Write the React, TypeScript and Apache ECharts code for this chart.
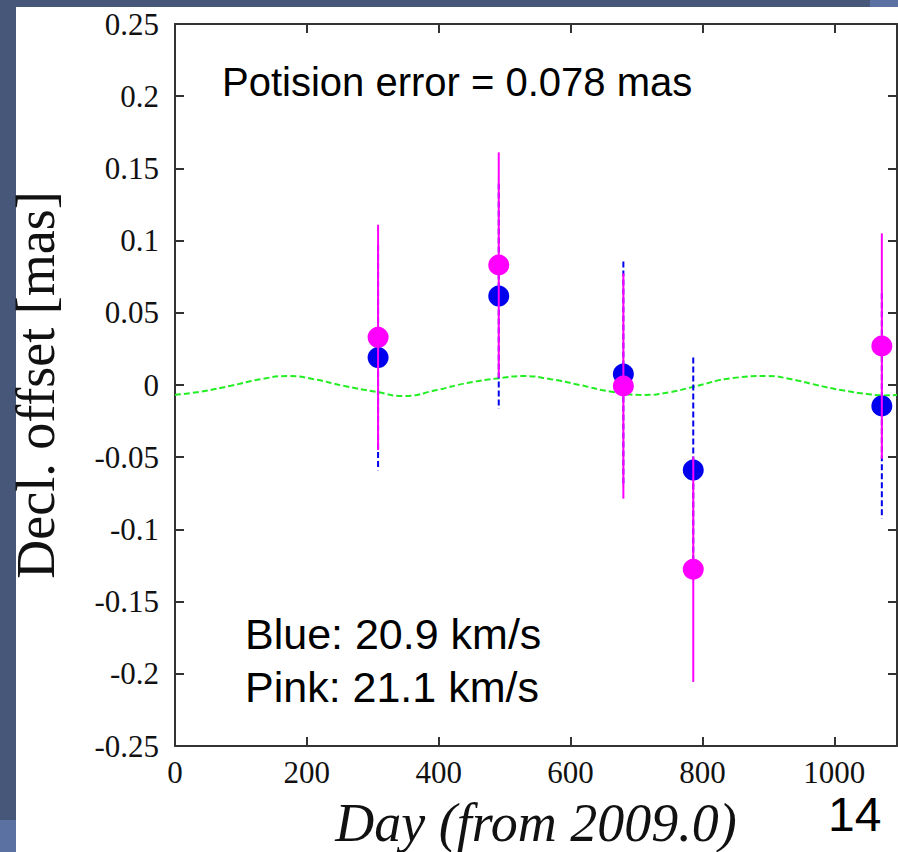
import React, { useEffect, useRef } from "react";
import * as echarts from "echarts";

// ---- data ----
const xTickLabels = ["0", "200", "400", "600", "800", "1000"];
const yTickLabels = ["-0.25", "-0.2", "-0.15", "-0.1", "-0.05", "0", "0.05", "0.1", "0.15", "0.2", "0.25"];

const obsDays = [308, 491, 680, 786, 1072];
const blueValues = [0.019, 0.0616, 0.0076, -0.0589, -0.0145];
const pinkValues = [0.033, 0.0831, -0.0007, -0.1276, 0.027];
const positionError = 0.078;

const curveDays = [0, 40, 85, 130, 171, 209, 255, 306, 346, 397, 443, 493, 528, 570, 614, 660, 710, 750, 785, 846, 898, 935, 973, 1010, 1049, 1075, 1095];
const curveValues = [-0.0069, -0.0045, -0.0005, 0.004, 0.0062, 0.0042, -0.0005, -0.0048, -0.0076, -0.0035, 0.0014, 0.0048, 0.0062, 0.004, 0.0, -0.0045, -0.0069, -0.005, -0.0014, 0.0048, 0.0062, 0.004, 0.0, -0.0035, -0.0062, -0.0072, -0.0069];

const Y_MIN = -0.25;
const Y_INT = 0.05;
const X_INT = 200;

export default function App() {
  const ref = useRef<HTMLDivElement>(null);
  useEffect(() => {
    if (!ref.current) return;
    const chart = echarts.init(ref.current, null, { renderer: "svg" });

    const blueData = obsDays.map((d, i) => [d, blueValues[i], positionError]);
    const pinkData = obsDays.map((d, i) => [d, pinkValues[i], positionError]);
    const curveData = curveDays.map((d, i) => [d, curveValues[i]]);

    const errRender = (color: string, dash: number[] | null) => (params: any, api: any) => {
      const x = api.value(0);
      const y = api.value(1);
      const e = api.value(2);
      const p1 = api.coord([x, y + e]);
      const p2 = api.coord([x, y - e]);
      return {
        type: "line",
        shape: { x1: p1[0], y1: p1[1], x2: p2[0], y2: p2[1] },
        style: { stroke: color, lineWidth: 2, lineDash: dash || undefined },
      };
    };

    const serif = "'Liberation Serif', 'Times New Roman', serif";
    const sans = "'Liberation Sans', Arial, sans-serif";

    const axisLine = () => ({ show: true, onZero: false, lineStyle: { color: "#333", width: 2 } });
    const axisTick = () => ({ show: true, inside: true, length: 9, lineStyle: { color: "#333", width: 2 } });

    chart.setOption({
      animation: false,
      backgroundColor: "#46577a",
      graphic: [
        { type: "rect", z: -20, shape: { x: 870, y: 0, width: 28, height: 7 }, style: { fill: "#5b71a2" } },
        { type: "rect", z: -20, shape: { x: 0, y: 820, width: 16, height: 32 }, style: { fill: "#5b71a2" } },
        { type: "rect", z: -10, shape: { x: 16, y: 7, width: 882, height: 845 }, style: { fill: "#ffffff" } },
        { type: "text", z: 100, left: 222, top: 62, style: { text: "Potision error = 0.078 mas", font: `40px ${sans}`, fill: "#000" } },
        { type: "text", z: 100, left: 245, top: 612, style: { text: "Blue: 20.9 km/s", font: `43px ${sans}`, fill: "#000" } },
        { type: "text", z: 100, left: 245, top: 665, style: { text: "Pink: 21.1 km/s", font: `43px ${sans}`, fill: "#000" } },
        { type: "text", z: 100, left: 828, top: 790, style: { text: "14", font: `48px ${sans}`, fill: "#000" } },
      ],
      grid: { left: 175, right: 1, top: 24, bottom: 106, containLabel: false, outerBoundsMode: "none" },
      xAxis: [
        {
          type: "value",
          min: 0,
          max: 1095,
          interval: X_INT,
          position: "bottom",
          name: "Day (from 2009.0)",
          nameLocation: "middle",
          nameGap: 50,
          nameTextStyle: { fontFamily: serif, fontStyle: "italic", fontSize: 54, color: "#111" },
          axisLine: axisLine(),
          axisTick: axisTick(),
          splitLine: { show: false },
          axisLabel: {
            showMaxLabel: false,
            margin: 11,
            fontFamily: serif,
            fontSize: 31,
            color: "#111",
            formatter: (v: number) => xTickLabels[Math.round(v / X_INT)] ?? "",
          },
        },
        {
          type: "value",
          min: 0,
          max: 1095,
          interval: X_INT,
          position: "top",
          axisLine: axisLine(),
          axisTick: axisTick(),
          splitLine: { show: false },
          axisLabel: { show: false },
        },
      ],
      yAxis: [
        {
          type: "value",
          min: Y_MIN,
          max: 0.25,
          interval: Y_INT,
          position: "left",
          name: "Decl. offset [mas]",
          nameLocation: "middle",
          nameGap: 112,
          nameRotate: 90,
          nameTextStyle: { fontFamily: serif, fontSize: 54, color: "#111" },
          axisLine: axisLine(),
          axisTick: axisTick(),
          splitLine: { show: false },
          axisLabel: {
            margin: 16,
            fontFamily: serif,
            fontSize: 31,
            color: "#111",
            formatter: (v: number) => yTickLabels[Math.round((v - Y_MIN) / Y_INT)] ?? "",
          },
        },
        {
          type: "value",
          min: Y_MIN,
          max: 0.25,
          interval: Y_INT,
          position: "right",
          axisLine: axisLine(),
          axisTick: axisTick(),
          splitLine: { show: false },
          axisLabel: { show: false },
        },
      ],
      series: [
        {
          type: "line",
          name: "model",
          data: curveData,
          smooth: true,
          showSymbol: false,
          z: 1,
          lineStyle: { color: "#22ee22", width: 2, type: [6, 3] },
        },
        {
          type: "custom",
          name: "blue error",
          data: blueData,
          z: 2,
          renderItem: errRender("#0000ee", [6, 3]),
        },
        {
          type: "scatter",
          name: "Blue",
          data: blueData.map((d) => [d[0], d[1]]),
          symbolSize: 21,
          z: 3,
          itemStyle: { color: "#0000ee", opacity: 1 },
        },
        {
          type: "custom",
          name: "pink error",
          data: pinkData,
          z: 4,
          renderItem: errRender("#ff00ff", null),
        },
        {
          type: "scatter",
          name: "Pink",
          data: pinkData.map((d) => [d[0], d[1]]),
          symbolSize: 21,
          z: 5,
          itemStyle: { color: "#ff00ff", opacity: 1 },
        },
      ],
    });
    return () => chart.dispose();
  }, []);
  return <div ref={ref} style={{ position: "fixed", left: 0, top: 0, width: 898, height: 852 }} />;
}
